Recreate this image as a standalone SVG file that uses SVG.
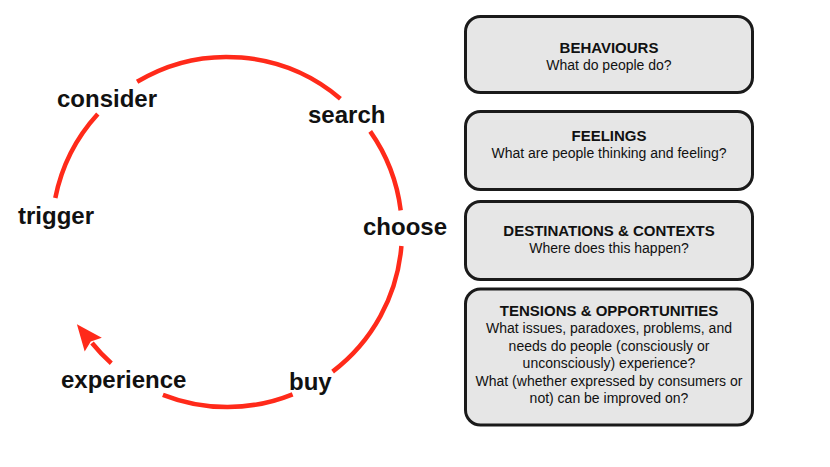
<svg xmlns="http://www.w3.org/2000/svg" width="830" height="467" viewBox="0 0 830 467">
<style>
.arc{fill:none;stroke:#ff2a1a;stroke-width:4.5}
.lbl{font-family:"Liberation Sans",Arial,sans-serif;font-weight:bold;font-size:24px;fill:#111}
.box{fill:#e6e6e6;stroke:#1a1a1a;stroke-width:3}
.ttl{font-family:"Liberation Sans",Arial,sans-serif;font-weight:bold;font-size:15px;fill:#111;text-anchor:middle}
.bdy{font-family:"Liberation Sans",Arial,sans-serif;font-size:14px;fill:#111;text-anchor:middle}
</style>
<defs>
<marker id="ah" markerUnits="userSpaceOnUse" markerWidth="30" markerHeight="26" viewBox="0 0 30 26" refX="2" refY="13" orient="auto">
<path d="M0,2 L26,13 L0,24 L4,13 z" fill="#ff2a1a"/>
</marker>
</defs>
<rect width="830" height="467" fill="#ffffff"/>
<g id="connectors">
<path class="arc" d="M137.1,81.8 A175,175 0 0 1 340.4,98.7"/>
<path class="arc" d="M370.2,131.4 A175,175 0 0 1 400.7,210.4"/>
<path class="arc" d="M401.4,246 A175,175 0 0 1 332.6,371.6"/>
<path class="arc" d="M292.6,394.3 A175,175 0 0 1 162.9,394.8"/>
<path class="arc" d="M111.3,363.3 A175,175 0 0 1 92,343" marker-end="url(#ah)"/>
<path class="arc" d="M55.3,198 A175,175 0 0 1 97.8,114"/>
</g>
<g id="trigger"><text class="lbl" x="18" y="224">trigger</text></g>
<g id="consider"><text class="lbl" x="57" y="107">consider</text></g>
<g id="search"><text class="lbl" x="308" y="123">search</text></g>
<g id="choose"><text class="lbl" x="363" y="235">choose</text></g>
<g id="buy"><text class="lbl" x="289" y="390">buy</text></g>
<g id="experience"><text class="lbl" x="61" y="388">experience</text></g>
<g id="behaviours">
<rect class="box" x="465.5" y="16.5" width="287" height="76" rx="15"/>
<text class="ttl" x="609" y="52.7">BEHAVIOURS</text>
<text class="bdy" x="609" y="70">What do people do?</text>
</g>
<g id="feelings">
<rect class="box" x="465.5" y="111.5" width="287" height="78" rx="15"/>
<text class="ttl" x="609" y="140.7">FEELINGS</text>
<text class="bdy" x="609" y="157.5">What are people thinking and feeling?</text>
</g>
<g id="destinations">
<rect class="box" x="465.5" y="201.5" width="287" height="78" rx="15"/>
<text class="ttl" x="609" y="235.7">DESTINATIONS &amp; CONTEXTS</text>
<text class="bdy" x="609" y="253.3">Where does this happen?</text>
</g>
<g id="tensions">
<rect class="box" x="465.5" y="289" width="287" height="136" rx="15"/>
<text class="ttl" x="609" y="315.5">TENSIONS &amp; OPPORTUNITIES</text>
<text class="bdy" x="609" y="333.3">What issues, paradoxes, problems, and</text>
<text class="bdy" x="609" y="351">needs do people (consciously or</text>
<text class="bdy" x="609" y="368.4">unconsciously) experience?</text>
<text class="bdy" x="609" y="386">What (whether expressed by consumers or</text>
<text class="bdy" x="609" y="403.4">not) can be improved on?</text>
</g>
</svg>
